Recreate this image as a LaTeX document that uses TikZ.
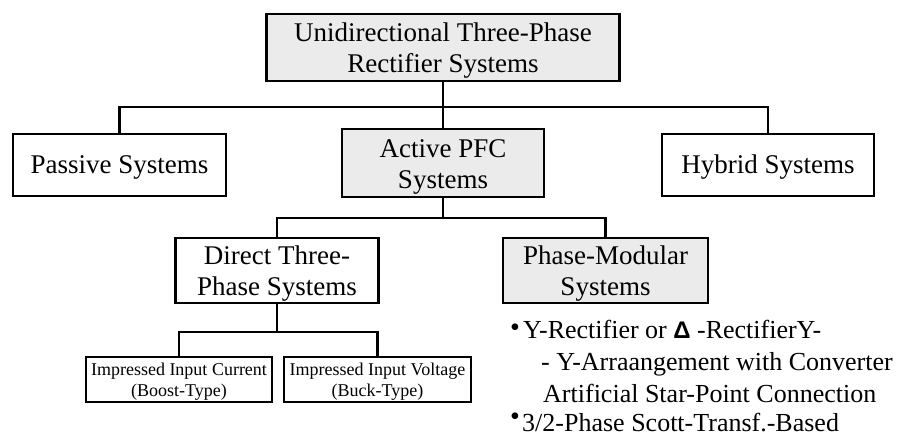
\documentclass[tikz,border=0pt]{standalone}
\usepackage{fontspec}
\setmainfont{Liberation Serif}
\newfontfamily\symfont{Liberation Sans}
\definecolor{boxgray}{RGB}{235,235,235}
\begin{document}
\begin{tikzpicture}[x=1pt,y=-1pt,
  box/.style={draw=black,line width=2.4pt,inner sep=0pt,align=center,
    font=\fontsize{27}{31}\selectfont},
  one/.style={text height=18pt,text depth=2pt},
  two/.style={text height=52pt,text depth=2pt},
  graybox/.style={box,fill=boxgray},
  smallbox/.style={box,font=\fontsize{18}{21}\selectfont,text height=35pt,text depth=2pt},
  conn/.style={line width=2.4pt},
  dot/.style={anchor=base,inner sep=0pt,font=\fontsize{28}{28}\selectfont},
  bul/.style={anchor=base west,inner sep=0pt,font=\fontsize{26}{32}\selectfont}]
\useasboundingbox (0,0) rectangle (899,441);
% level 0
\node[graybox,two,minimum width=353pt,minimum height=67pt] (top) at (443,47.5)
  {Unidirectional Three-Phase\\Rectifier Systems};
% level 1
\node[box,one,minimum width=213pt,minimum height=62pt] (passive) at (119.5,165) {Passive Systems};
\node[graybox,two,minimum width=202pt,minimum height=68pt] (active) at (443,163) {Active PFC\\Systems};
\node[box,one,minimum width=212pt,minimum height=62pt] (hybrid) at (768,165) {Hybrid Systems};
% level 2
\node[box,two,minimum width=203pt,minimum height=65pt] (direct) at (277,270.5) {Direct Three-\\Phase Systems};
\node[graybox,two,minimum width=205pt,minimum height=65pt] (phasemod) at (605.5,270.5) {Phase-Modular\\Systems};
% level 3
\node[smallbox,minimum width=186pt,minimum height=45pt] (current) at (179,379.5)
  {Impressed Input Current\\(Boost-Type)};
\node[smallbox,minimum width=187pt,minimum height=45pt] (voltage) at (377.5,379.5)
  {Impressed Input Voltage\\(Buck-Type)};
% junctions
\coordinate (h1) at (443,107);
\coordinate (h2) at (443,218);
\coordinate (h3) at (277,332);
% connectors
\draw[conn] (top.south) -- (active.north);
\draw[conn] (passive.north) |- (h1) -| (hybrid.north);
\draw[conn] (active.south) -- (h2);
\draw[conn] (direct.north) |- (h2) -| (phasemod.north);
\draw[conn] (direct.south) -- (h3);
\draw[conn] (current.north) |- (h3) -| (voltage.north);
% bullet list
\node[dot] (b1) at (515,336) {\textbullet};
\node[bul] (l1) at (523,338) {Y-Rectifier or {\symfont\bfseries\fontsize{24}{30}\selectfont Δ} -RectifierY-};
\node[bul] (l2) at (541,370) {- Y-Arraangement with Converter};
\node[bul] (l3) at (543,402) {Artificial Star-Point Connection};
\node[dot] (b2) at (515,425) {\textbullet};
\node[bul] (l4) at (522,431) {3/2-Phase Scott-Transf.-Based};
\end{tikzpicture}
\end{document}
